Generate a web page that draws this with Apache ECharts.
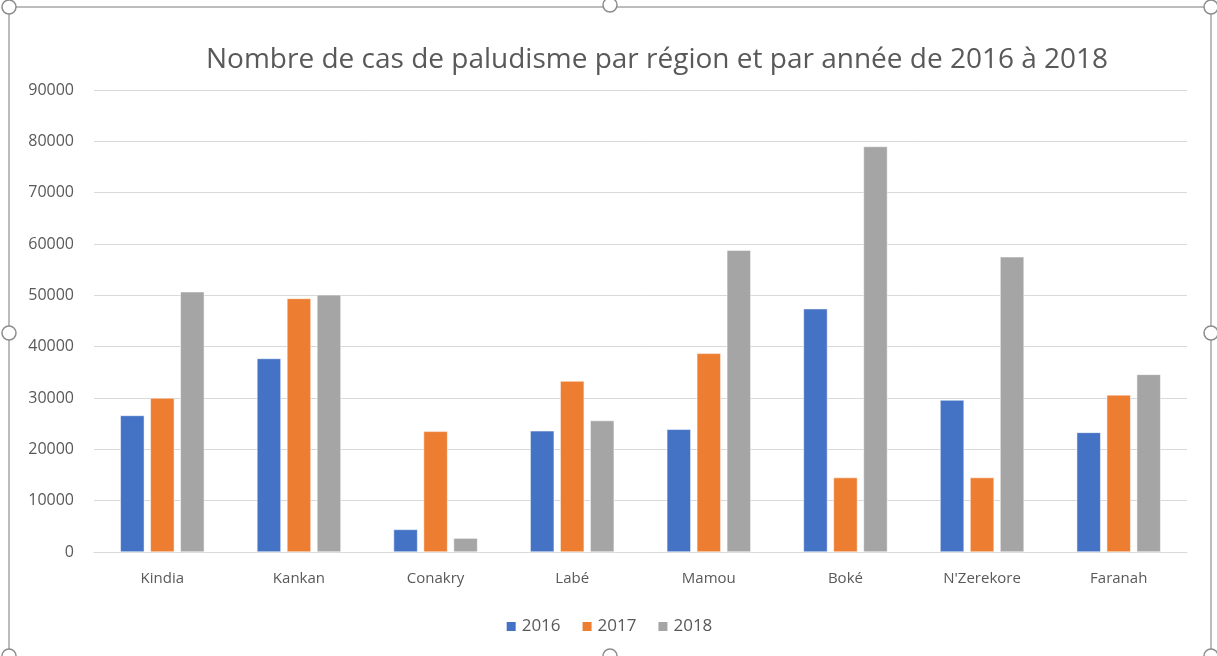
<!DOCTYPE html>
<html>
<head>
<meta charset="utf-8">
<script src="https://cdn.jsdelivr.net/npm/echarts@6/dist/echarts.min.js"></script>
<style>
  html, body { margin: 0; padding: 0; background: #fff; }
  #chart { width: 1217px; height: 656px; }
</style>
</head>
<body>
<div id="chart"></div>
<script>
  // données
  const regions = ['Kindia', 'Kankan', 'Conakry', 'Labé', 'Mamou', 'Boké', "N'Zerekore", 'Faranah'];
  const cas2016 = [26600, 37700, 4400, 23600, 23900, 47400, 29600, 23300];
  const cas2017 = [30000, 49400, 23500, 33300, 38700, 14500, 14500, 30600];
  const cas2018 = [50700, 50100, 2700, 25600, 58800, 79000, 57500, 34600];
  const years = ['2016', '2017', '2018'];

  const txt = '#595959';
  const font = '"Open Sans", "Noto Sans", sans-serif';

  let myChart = echarts.init(document.getElementById('chart'));

  // poignées du cadre de sélection
  const handles = [[9, 7], [610, 5], [1211, 7], [9, 333], [1211, 333], [9, 656], [610, 656], [1211, 656]];

  myChart.setOption({
    animation: false,
    textStyle: { fontFamily: font },
    title: {
      text: 'Nombre de cas de paludisme par région et par année de 2016 à 2018',
      left: 201,
      top: 41,
      textStyle: { color: txt, fontSize: 28, fontWeight: 'normal', fontFamily: font }
    },
    legend: {
      data: years,
      bottom: 16,
      left: 'center',
      itemWidth: 11,
      itemHeight: 11,
      itemGap: 20,
      icon: 'rect',
      textStyle: { color: txt, fontSize: 17, fontFamily: font }
    },
    grid: {
      left: 94,
      right: 30,
      top: 90,
      bottom: 104
    },
    xAxis: {
      type: 'category',
      data: regions,
      axisTick: { show: false },
      axisLine: { lineStyle: { color: '#d9d9d9' } },
      axisLabel: { color: txt, fontSize: 15, margin: 19 }
    },
    yAxis: {
      type: 'value',
      min: 0,
      max: 90000,
      interval: 10000,
      axisLine: { show: false },
      axisTick: { show: false },
      splitLine: { lineStyle: { color: '#d9d9d9' } },
      axisLabel: { color: txt, fontSize: 16, margin: 20, formatter: function (v) { return String(v); } }
    },
    series: [
      { name: '2016', type: 'bar', data: cas2016, barWidth: 24, barGap: '25%',
        itemStyle: { color: '#4472C4', borderColor: '#fff', borderWidth: 0.5 } },
      { name: '2017', type: 'bar', data: cas2017, barWidth: 24, barGap: '25%',
        itemStyle: { color: '#ED7D31', borderColor: '#fff', borderWidth: 0.5 } },
      { name: '2018', type: 'bar', data: cas2018, barWidth: 24, barGap: '25%',
        itemStyle: { color: '#A5A5A5', borderColor: '#fff', borderWidth: 0.5 } }
    ],
    graphic: [
      {
        type: 'rect',
        shape: { x: 9, y: 7, width: 1202, height: 660 },
        style: { fill: 'none', stroke: '#a6a6a6', lineWidth: 1.5 },
        silent: true
      }
    ].concat(handles.map(function (p) {
      return {
        type: 'circle',
        shape: { cx: p[0], cy: p[1], r: 7 },
        style: { fill: '#fff', stroke: '#8c8c8c', lineWidth: 1.5 },
        silent: true
      };
    }))
  });
</script>
</body>
</html>
